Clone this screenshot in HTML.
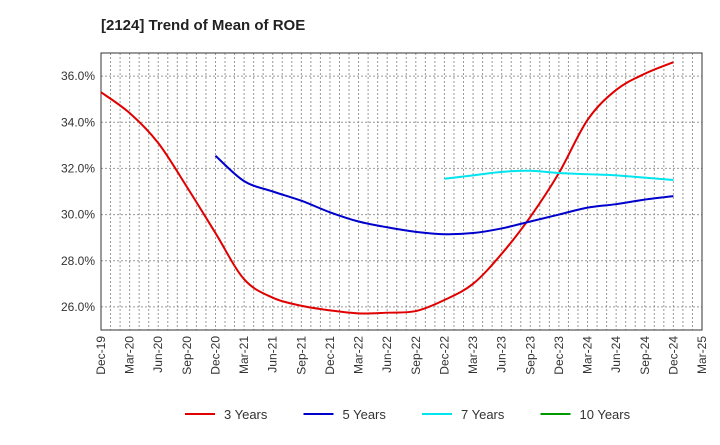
<!DOCTYPE html>
<html><head><meta charset="utf-8"><style>
body{margin:0;background:#fff;font-family:"Liberation Sans",sans-serif}
</style></head><body>
<svg id="chart" width="720" height="440" xmlns="http://www.w3.org/2000/svg">
<text x="101" y="30" font-size="15" font-weight="bold" fill="#222">[2124]  Trend of Mean of ROE</text>
<g id="grid"></g><g id="axes"></g><g id="series"></g><g id="legend"></g>
</svg>
<script>
const xLabels=["Dec-19","Mar-20","Jun-20","Sep-20","Dec-20","Mar-21","Jun-21","Sep-21","Dec-21","Mar-22","Jun-22","Sep-22","Dec-22","Mar-23","Jun-23","Sep-23","Dec-23","Mar-24","Jun-24","Sep-24","Dec-24","Mar-25"];
const yTicks=[26,28,30,32,34,36];
const seriesNames=["3 Years","5 Years","7 Years","10 Years"];
const seriesColors=["#e00000","#0000cc","#00e5ee","#009900"];
const s3=[35.3,34.4,33.1,31.2,29.2,27.2,26.4,26.05,25.85,25.72,25.75,25.82,26.3,27.0,28.3,29.9,31.8,34.1,35.4,36.1,36.6];
const s5=[null,null,null,null,32.55,31.45,31.0,30.6,30.1,29.7,29.45,29.25,29.15,29.2,29.4,29.7,30.0,30.3,30.45,30.65,30.8];
const s7=[null,null,null,null,null,null,null,null,null,null,null,null,31.55,31.7,31.85,31.9,31.8,31.75,31.7,31.6,31.5];
const s10=[];
const allSeries=[s3,s5,s7,s10];
const L=101,R=702,T=53,B=330,yMin=25,yMax=37;
const xs=i=>L+(R-L)*i/(xLabels.length-1);
const ys=v=>B-(v-yMin)/(yMax-yMin)*(B-T);
const NS="http://www.w3.org/2000/svg";
function mk(tag,attrs,parent){const e=document.createElementNS(NS,tag);for(const k in attrs)e.setAttribute(k,attrs[k]);parent.appendChild(e);return e;}
const grid=document.getElementById('grid'),axes=document.getElementById('axes'),ser=document.getElementById('series'),leg=document.getElementById('legend');
for(let m=1;m<(xLabels.length-1)*3;m++){const x=L+(R-L)*m/((xLabels.length-1)*3);
const g=mk('line',{x1:x,x2:x,y1:T,y2:B,stroke:'#999','stroke-dasharray':'2,2','stroke-width':1},grid);

}
yTicks.forEach(v=>{const y=ys(v);
const g=mk('line',{x1:L,x2:R,y1:y,y2:y,stroke:'#999','stroke-dasharray':'2,2'},grid);


const t=mk('text',{x:L-6,y:y+4,'text-anchor':'end','font-size':12,fill:'#333'},axes);t.textContent=v.toFixed(1)+'%';

});
const fr=mk('rect',{x:L,y:T,width:R-L,height:B-T,fill:'none',stroke:'#333'},axes);


xLabels.forEach((l,i)=>{const x=xs(i);
const t=mk('text',{x:x+4,y:B+6,'text-anchor':'end','font-size':12,fill:'#333',transform:`rotate(-90 ${x+4} ${B+6})`},axes);t.textContent=l;

});
function pathFor(arr){const pts=[];arr.forEach((v,i)=>{if(v!=null)pts.push([xs(i),ys(v)]);});if(pts.length<2)return'';
let d=`M${pts[0][0]},${pts[0][1]}`;for(let i=0;i<pts.length-1;i++){const p0=pts[i-1]||pts[i],p1=pts[i],p2=pts[i+1],p3=pts[i+2]||p2;
d+=` C${p1[0]+(p2[0]-p0[0])/6},${p1[1]+(p2[1]-p0[1])/6} ${p2[0]-(p3[0]-p1[0])/6},${p2[1]-(p3[1]-p1[1])/6} ${p2[0]},${p2[1]}`;}return d;}
allSeries.forEach((a,k)=>{const d=pathFor(a);if(!d)return;
const p=mk('path',{d:d,fill:'none',stroke:seriesColors[k],'stroke-width':2},ser);

});
seriesNames.forEach((n,k)=>{const x0=185+k*118.5;
const l=mk('line',{x1:x0,x2:x0+30,y1:414,y2:414,stroke:seriesColors[k],'stroke-width':2},leg);


const t=mk('text',{x:x0+39,y:419,'font-size':13,fill:'#333'},leg);t.textContent=n;

});
</script>
</body></html>
